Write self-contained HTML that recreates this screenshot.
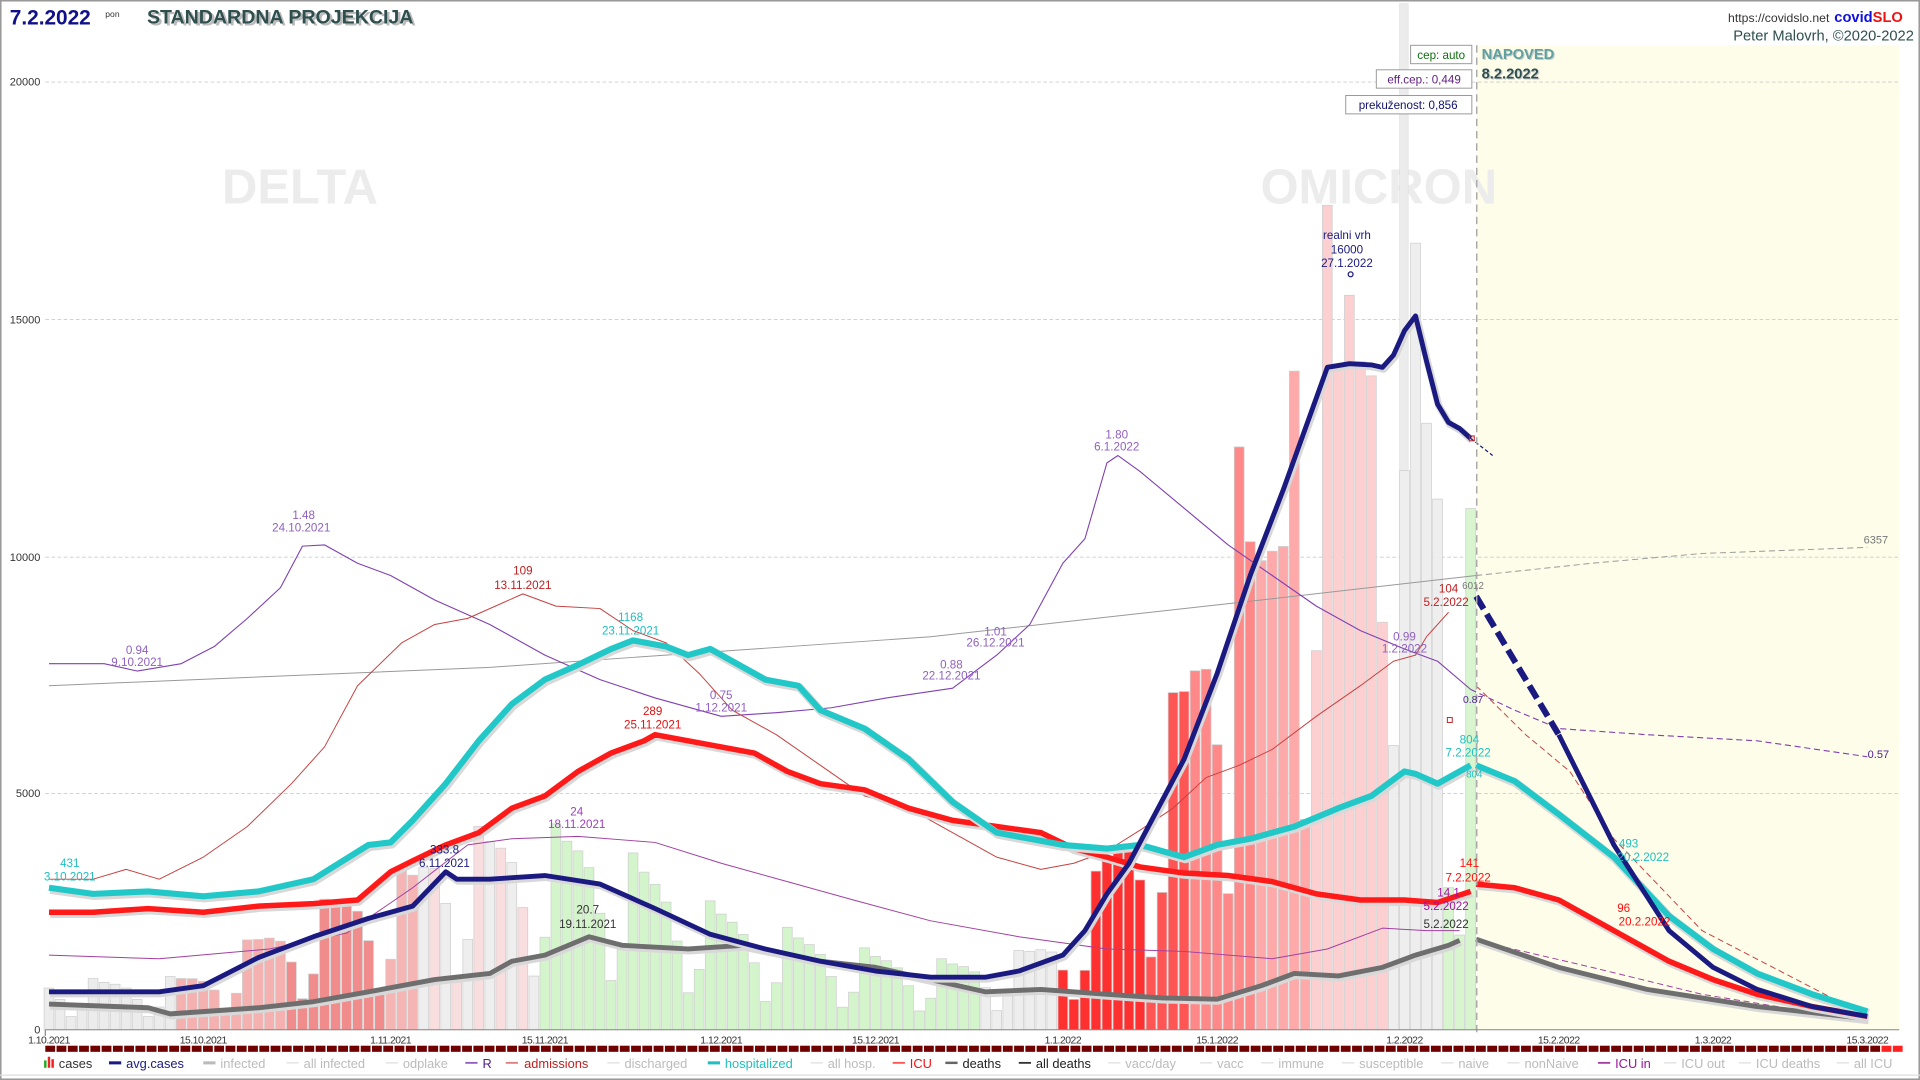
<!DOCTYPE html>
<html><head><meta charset="utf-8">
<style>
html,body{margin:0;padding:0;background:#fff;}
svg{display:block;}
text{font-family:"Liberation Sans",sans-serif;}
</style></head>
<body>
<svg id="s" width="1920" height="1080" viewBox="0 0 1568 882" xmlns="http://www.w3.org/2000/svg">
<rect x="0.5" y="0.5" width="1567" height="881" fill="#fff" stroke="#999" stroke-width="1.5"/>
<rect x="1206" y="37" width="345" height="804" fill="#fdfde9"/>
<g stroke="#ccc" stroke-dasharray="3,2" stroke-width="0.7">
<line x1="37" y1="67" x2="1551" y2="67"/><line x1="37" y1="261" x2="1551" y2="261"/>
<line x1="37" y1="455" x2="1551" y2="455"/><line x1="37" y1="648" x2="1551" y2="648"/>
</g>
<text x="245" y="166" font-size="40" font-weight="bold" fill="#ececec" text-anchor="middle">DELTA</text>
<text x="1126" y="166" font-size="40" font-weight="bold" fill="#ececec" text-anchor="middle">OMICRON</text>
<rect x="1143" y="3" width="7" height="838" fill="#ececec" stroke="#ddd" stroke-width="0.5"/>
<g id="bars"></g>
<g id="lines"></g>
<line x1="1206" y1="37" x2="1206" y2="845" stroke="#aaa" stroke-dasharray="6,4" stroke-width="1.2"/>
<line x1="37" y1="841" x2="1551" y2="841" stroke="#888" stroke-width="0.8"/>
<line x1="37" y1="841" x2="37" y2="846" stroke="#888"/>
<g font-size="9" fill="#333" text-anchor="end">
<text x="33" y="70">20000</text><text x="33" y="264">15000</text><text x="33" y="458">10000</text><text x="33" y="651">5000</text><text x="33" y="844">0</text>
</g>
<g font-size="8.5" fill="#333" text-anchor="middle" letter-spacing="-0.4">
<text x="40" y="852">1.10.2021</text><text x="166" y="852">15.10.2021</text><text x="319" y="852">1.11.2021</text><text x="445" y="852">15.11.2021</text><text x="589" y="852">1.12.2021</text><text x="715" y="852">15.12.2021</text><text x="868" y="852">1.1.2022</text><text x="994" y="852">15.1.2022</text><text x="1147" y="852">1.2.2022</text><text x="1273" y="852">15.2.2022</text><text x="1399" y="852">1.3.2022</text><text x="1525" y="852">15.3.2022</text>
</g>
<g id="band"></g>
<!-- annotations -->
<g font-size="9.5" text-anchor="middle">
<text x="57" y="708" fill="#20c0c0">431</text><text x="57" y="719" fill="#20c0c0">3.10.2021</text>
<text x="248" y="424" fill="#9060c0">1.48</text><text x="246" y="434" fill="#9060c0">24.10.2021</text>
<text x="112" y="534" fill="#9060c0">0.94</text><text x="112" y="544" fill="#9060c0">9.10.2021</text>
<text x="427" y="469" fill="#c02020">109</text><text x="427" y="481" fill="#c02020">13.11.2021</text>
<text x="515" y="507" fill="#20c0c0">1168</text><text x="515" y="518" fill="#20c0c0">23.11.2021</text>
<text x="533" y="584" fill="#e01010">289</text><text x="533" y="595" fill="#e01010">25.11.2021</text>
<text x="589" y="571" fill="#9060c0">0.75</text><text x="589" y="581" fill="#9060c0">1.12.2021</text>
<text x="777" y="546" fill="#9060c0">0.88</text><text x="777" y="555" fill="#9060c0">22.12.2021</text>
<text x="813" y="519" fill="#9060c0">1.01</text><text x="813" y="528" fill="#9060c0">26.12.2021</text>
<text x="912" y="358" fill="#9060c0">1.80</text><text x="912" y="368" fill="#9060c0">6.1.2022</text>
<text x="471" y="666" fill="#a040c0">24</text><text x="471" y="676" fill="#a040c0">18.11.2021</text>
<text x="363" y="697" fill="#1a1a80">333.8</text><text x="363" y="708" fill="#1a1a80">6.11.2021</text>
<text x="480" y="746" fill="#333">20.7</text><text x="480" y="758" fill="#333">19.11.2021</text>
<text x="1100" y="195" fill="#1a1a80">realni vrh</text><text x="1100" y="207" fill="#1a1a80">16000</text><text x="1100" y="218" fill="#1a1a80">27.1.2022</text>
<text x="1183" y="484" fill="#c02020">104</text><text x="1181" y="495" fill="#c02020">5.2.2022</text>
<text x="1147" y="523" fill="#9060c0">0.99</text><text x="1147" y="533" fill="#9060c0">1.2.2022</text>
<text x="1203" y="481" fill="#777" font-size="8">6012</text>
<text x="1203" y="574" fill="#502090" font-size="8.5">0.87</text>
<text x="1200" y="607" fill="#20c0c0">804</text><text x="1199" y="618" fill="#20c0c0">7.2.2022</text>
<text x="1204" y="635" fill="#20c0c0" font-size="8">804</text>
<text x="1200" y="708" fill="#ff1010">141</text><text x="1199" y="720" fill="#ff1010">7.2.2022</text>
<text x="1183" y="732" fill="#a010a0">14.1</text><text x="1181" y="743" fill="#a010a0">5.2.2022</text>
<text x="1181" y="758" fill="#333">5.2.2022</text>
<text x="1330" y="692" fill="#20c0c0">493</text><text x="1342" y="703" fill="#20c0c0">20.2.2022</text>
<text x="1326" y="745" fill="#ff1010">96</text><text x="1343" y="756" fill="#ff1010">20.2.2022</text>
<text x="1532" y="444" fill="#777" font-size="9">6357</text>
<text x="1534" y="619" fill="#502090" font-size="9">0.57</text>
</g>
<circle cx="1103" cy="224" r="2" fill="none" stroke="#1a1a80"/>
<rect x="1200" y="356" width="4" height="4" fill="none" stroke="#c02020" stroke-width="0.8"/>
<rect x="1182" y="586" width="4" height="4" fill="none" stroke="#c02020" stroke-width="0.8"/>
<!-- boxes -->
<rect x="1152" y="37" width="50" height="15" fill="#fff" stroke="#999" stroke-width="0.8"/>
<text x="1177" y="48" font-size="9.5" fill="#107010" text-anchor="middle">cep: auto</text>
<rect x="1124" y="57" width="78" height="15" fill="#fff" stroke="#999" stroke-width="0.8"/>
<text x="1163" y="68" font-size="9.5" fill="#602080" text-anchor="middle">eff.cep.: 0,449</text>
<rect x="1099" y="78" width="103" height="15" fill="#fff" stroke="#999" stroke-width="0.8"/>
<text x="1150" y="89" font-size="9.5" fill="#101070" text-anchor="middle">prekuženost: 0,856</text>
<text x="1211" y="49" font-size="12" font-weight="bold" fill="#ccc">NAPOVED</text>
<text x="1210" y="48" font-size="12" font-weight="bold" fill="#5fa0a0">NAPOVED</text>
<text x="1211" y="65" font-size="12" font-weight="bold" fill="#ccc">8.2.2022</text>
<text x="1210" y="64" font-size="12" font-weight="bold" fill="#2f4f4f">8.2.2022</text>
<!-- header -->
<text x="8" y="20" font-size="17" font-weight="bold" fill="#10108a">7.2.2022</text>
<text x="86" y="14" font-size="7" fill="#333">pon</text>
<text x="122" y="21" font-size="16" font-weight="bold" fill="#bbb">STANDARDNA PROJEKCIJA</text>
<text x="120" y="19" font-size="16" font-weight="bold" fill="#2f4f4f">STANDARDNA PROJEKCIJA</text>
<text x="1494" y="18" font-size="10" fill="#333" text-anchor="end">https://covidslo.net</text>
<text x="1498" y="18" font-size="12" font-weight="bold" fill="#1010e0">covid<tspan fill="#f01010">SLO</tspan></text>
<text x="1563" y="33" font-size="12" fill="#2f4f4f" text-anchor="end">Peter Malovrh, ©2020-2022</text>
<!-- legend -->
<g font-size="10.5">
<rect x="36" y="866" width="2" height="6" fill="#2a2"/><rect x="39" y="863" width="2" height="9" fill="#e22"/><rect x="42" y="865" width="2" height="7" fill="#e22"/>
<text x="48" y="872" fill="#333">cases</text>
<line x1="89" y1="868" x2="99" y2="868" stroke="#1a1a80" stroke-width="2.5"/><text x="103" y="872" fill="#1a1a80">avg.cases</text>
<line x1="166" y1="868" x2="176" y2="868" stroke="#bbb" stroke-width="2.5"/><text x="180" y="872" fill="#bbb">infected</text>
<line x1="234" y1="868" x2="244" y2="868" stroke="#ddd"/><text x="248" y="872" fill="#bbb">all infected</text>
<line x1="315" y1="868" x2="325" y2="868" stroke="#ddd"/><text x="329" y="872" fill="#bbb">odplake</text>
<line x1="380" y1="868" x2="390" y2="868" stroke="#9060c0" stroke-width="1.5"/><text x="394" y="872" fill="#502090">R</text>
<line x1="413" y1="868" x2="423" y2="868" stroke="#e08080" stroke-width="1.5"/><text x="428" y="872" fill="#c02020">admissions</text>
<line x1="496" y1="868" x2="506" y2="868" stroke="#ddd"/><text x="510" y="872" fill="#bbb">discharged</text>
<line x1="578" y1="868" x2="588" y2="868" stroke="#20c0c0" stroke-width="2.5"/><text x="592" y="872" fill="#20c0c0">hospitalized</text>
<line x1="662" y1="868" x2="672" y2="868" stroke="#ddd"/><text x="676" y="872" fill="#bbb">all hosp.</text>
<line x1="729" y1="868" x2="739" y2="868" stroke="#f55" stroke-width="1.5"/><text x="743" y="872" fill="#f01010">ICU</text>
<line x1="772" y1="868" x2="782" y2="868" stroke="#666" stroke-width="2"/><text x="786" y="872" fill="#222">deaths</text>
<line x1="832" y1="868" x2="842" y2="868" stroke="#333" stroke-width="1.5"/><text x="846" y="872" fill="#222">all deaths</text>
<line x1="905" y1="868" x2="915" y2="868" stroke="#ddd"/><text x="919" y="872" fill="#bbb">vacc/day</text>
<line x1="980" y1="868" x2="990" y2="868" stroke="#ddd"/><text x="994" y="872" fill="#bbb">vacc</text>
<line x1="1030" y1="868" x2="1040" y2="868" stroke="#ddd"/><text x="1044" y="872" fill="#bbb">immune</text>
<line x1="1096" y1="868" x2="1106" y2="868" stroke="#ddd"/><text x="1110" y="872" fill="#bbb">susceptible</text>
<line x1="1177" y1="868" x2="1187" y2="868" stroke="#ddd"/><text x="1191" y="872" fill="#bbb">naive</text>
<line x1="1231" y1="868" x2="1241" y2="868" stroke="#ddd"/><text x="1245" y="872" fill="#bbb">nonNaive</text>
<line x1="1305" y1="868" x2="1315" y2="868" stroke="#a040a0" stroke-width="1.5"/><text x="1319" y="872" fill="#a010a0">ICU in</text>
<line x1="1359" y1="868" x2="1369" y2="868" stroke="#ddd"/><text x="1373" y="872" fill="#bbb">ICU out</text>
<line x1="1420" y1="868" x2="1430" y2="868" stroke="#ddd"/><text x="1434" y="872" fill="#bbb">ICU deaths</text>
<line x1="1500" y1="868" x2="1510" y2="868" stroke="#ddd"/><text x="1514" y="872" fill="#bbb">all ICU</text>
</g>
<line x1="0" y1="878" x2="1568" y2="878" stroke="#ddd"/>
</svg>
<script>
var NS="http://www.w3.org/2000/svg";
function X(d){return 40+9*d;}
function el(p,t,a){var e=document.createElementNS(NS,t);for(var k in a)e.setAttribute(k,a[k]);p.appendChild(e);return e;}
var avg=[[0,810],[10,810],[14,805],[19,782],[24,765],[29,750],[33,740],[36,712],[37,718],[40,718],[45,715],[50,722],[55,742],[60,763],[65,775],[70,785],[75,793],[80,798],[85,798],[88,793],[92,780],[94,760],[96,730],[98,705],[103,620],[106,550],[109,470],[112,400],[114,350],[116,300],[118,297],[120,298],[121,300],[122,290],[123,270],[124,258],[125,295],[126,330],[127,345],[128,350],[129,358]];
function interp(pts,d){for(var i=0;i<pts.length-1;i++){if(d>=pts[i][0]&&d<=pts[i+1][0]){var t=(d-pts[i][0])/(pts[i+1][0]-pts[i][0]);return pts[i][1]+t*(pts[i+1][1]-pts[i][1]);}}return pts[pts.length-1][1];}
var wf=[1.1,0.8,0.35,0.6,1.35,1.25,1.2];
var ov={116:17400,117:14000,118:15500,119:14100,120:13800,113:13900,112:10200,111:10100,110:9900,109:10300,108:12300,123:11800,124:16600,125:12800,126:11200,127:3000,128:2000,129:11000,121:8600,122:6000};
var bars=document.getElementById('bars');
for(var d=0;d<=129;d++){
 var v=(841-interp(avg,d))/38.7*1000*wf[d%7];
 if(ov[d]!==undefined)v=ov[d];
 var c;
 if(d<12)c="#ececec";else if(d<22)c="#f5b0b0";else if(d<31)c="#f08c8c";else if(d<34)c="#f5b5b5";
 else if(d<45)c=(d%2?"#f8dede":"#eeeeee");else if(d<85)c="#d4f5cc";else if(d<92)c="#eeeeee";
 else if(d<100)c="#ff3030";else if(d<104)c="#f55";else if(d<110)c="#f88";else if(d<115)c="#faa";
 else if(d<122)c="#fcd0d0";else if(d<127)c="#eeeeee";else c="#d8f5d0";
 var h=v*0.0387;
 el(bars,"rect",{x:X(d)-4,y:841-h,width:8,height:h,fill:c,stroke:"#cfcfcf","stroke-width":0.6});
}
var L=document.getElementById('lines');
function line(pts,st,w,dash,halo){var s="";pts.forEach(function(p,i){s+=(i?"L":"M")+X(p[0]).toFixed(1)+","+p[1];});
 if(halo)el(L,"path",{d:s,fill:"none",stroke:"#d8d8d8","stroke-width":w+2,transform:"translate(1,1.5)","stroke-linejoin":"round"});
 var a={d:s,fill:"none",stroke:st,"stroke-width":w,"stroke-linejoin":"round"};if(dash)a["stroke-dasharray"]=dash;el(L,"path",a);}
// immune gray thin
line([[0,560],[40,545],[80,520],[110,490],[129.5,470]],"#999",0.8);
line([[129.5,470],[140,460],[150,452],[165,447]],"#999",0.8,"5,3");
// R
var R=[[0,542],[5,542],[8,548],[12,542],[15,528],[18,505],[21,480],[23,446],[25,445],[28,460],[31,470],[35,490],[40,510],[45,535],[50,555],[55,570],[61,585],[66,582],[71,578],[76,570],[82,562],[86,535],[89,510],[92,460],[94,440],[96,378],[97,372],[99,385],[103,415],[107,445],[111,470],[115,495],[119,515],[123,530],[126,540],[129,563]];
line(R,"#8040b0",0.9);
line([[129,563],[133,580],[137,595],[145,600],[155,605],[165,618]],"#8040b0",0.9,"5,3");
// admissions
var A=[[0,718],[4,718],[7,710],[10,718],[14,700],[18,675],[22,640],[25,610],[28,560],[32,525],[35,510],[38,505],[43,485],[46,495],[50,497],[53,515],[56,525],[59,550],[62,580],[66,600],[70,625],[74,650],[78,660],[82,680],[86,700],[90,710],[93,705],[96,695],[99,678],[102,660],[105,635],[108,625],[111,612],[115,585],[119,560],[122,540],[124,535],[125,520],[127,500]];
line(A,"#c84040",0.8);
line([[129.5,560],[134,600],[138,630],[142,685],[150,760],[165,830]],"#c84040",0.8,"5,3");
// ICU in
var I=[[0,780],[10,783],[20,775],[27,762],[33,725],[38,690],[42,685],[48,683],[55,688],[61,705],[67,720],[73,735],[80,752],[88,765],[96,775],[103,777],[111,783],[116,775],[121,758],[125,760],[128,760]];
line(I,"#a040a0",0.8);
line([[129.5,768],[140,790],[150,812],[165,834]],"#a040a0",0.8,"5,3");
// deaths
var D=[[0,820],[9,823],[11,828],[19,823],[24,818],[29,810],[35,800],[40,795],[42,785],[45,780],[49,765],[52,772],[58,775],[63,772],[70,785],[75,790],[80,800],[85,810],[90,808],[96,812],[101,815],[106,816],[110,805],[113,795],[117,797],[121,790],[124,780],[127,772],[128,768]];
line(D,"#6e6e6e",4,null,true);
line([[129.5,767],[137,790],[145,808],[155,822],[165,832]],"#6e6e6e",4,null,true);
// ICU
var U=[[0,745],[4,745],[9,742],[14,745],[19,740],[24,738],[28,735],[31,712],[33,703],[36,690],[39,680],[42,660],[45,650],[48,630],[51,615],[54,605],[55,600],[58,605],[61,610],[64,615],[67,630],[70,640],[74,645],[78,660],[82,670],[86,675],[90,680],[93,693],[96,700],[99,708],[103,713],[107,715],[111,720],[115,730],[119,735],[123,735],[126,737],[129,728]];
line(U,"#ff1a1a",4.5,null,true);
line([[129.5,722],[133,725],[137,735],[142,760],[147,785],[151,800],[155,812],[160,822],[165,830]],"#ff1a1a",4.5,null,true);
// hospitalized
var H=[[0,725],[4,730],[9,728],[14,732],[19,728],[24,718],[29,690],[31,688],[33,670],[36,640],[39,605],[42,575],[45,555],[48,543],[51,530],[53,523],[56,528],[58,535],[60,530],[62,540],[65,555],[68,560],[70,580],[74,595],[78,620],[82,655],[86,680],[89,685],[92,690],[96,693],[99,690],[101,695],[103,700],[106,690],[109,685],[113,675],[117,660],[120,650],[123,630],[124,632],[126,640],[129,625]];
line(H,"#22c8c8",5,null,true);
line([[129.5,625],[133,638],[137,665],[142,700],[147,748],[151,775],[155,795],[160,812],[165,826]],"#22c8c8",5,null,true);
// avg cases
line(avg,"#1a1a80",4,null,true);
line([[129,358],[131,372]],"#1a1a80",1,"3,2");
line([[129.5,487],[133,540],[137,600]],"#1a1a80",5,"12,5");
line([[137,600],[142,690],[147,760],[151,790],[155,808],[160,822],[165,830]],"#1a1a80",4);
// band
var B=document.getElementById('band');
for(var x=37;x<1548;x+=9.2){el(B,"rect",{x:x,y:854,width:8,height:5,fill:(x>1528?"#ff2020":"#700000")});}
</script>
</body></html>
